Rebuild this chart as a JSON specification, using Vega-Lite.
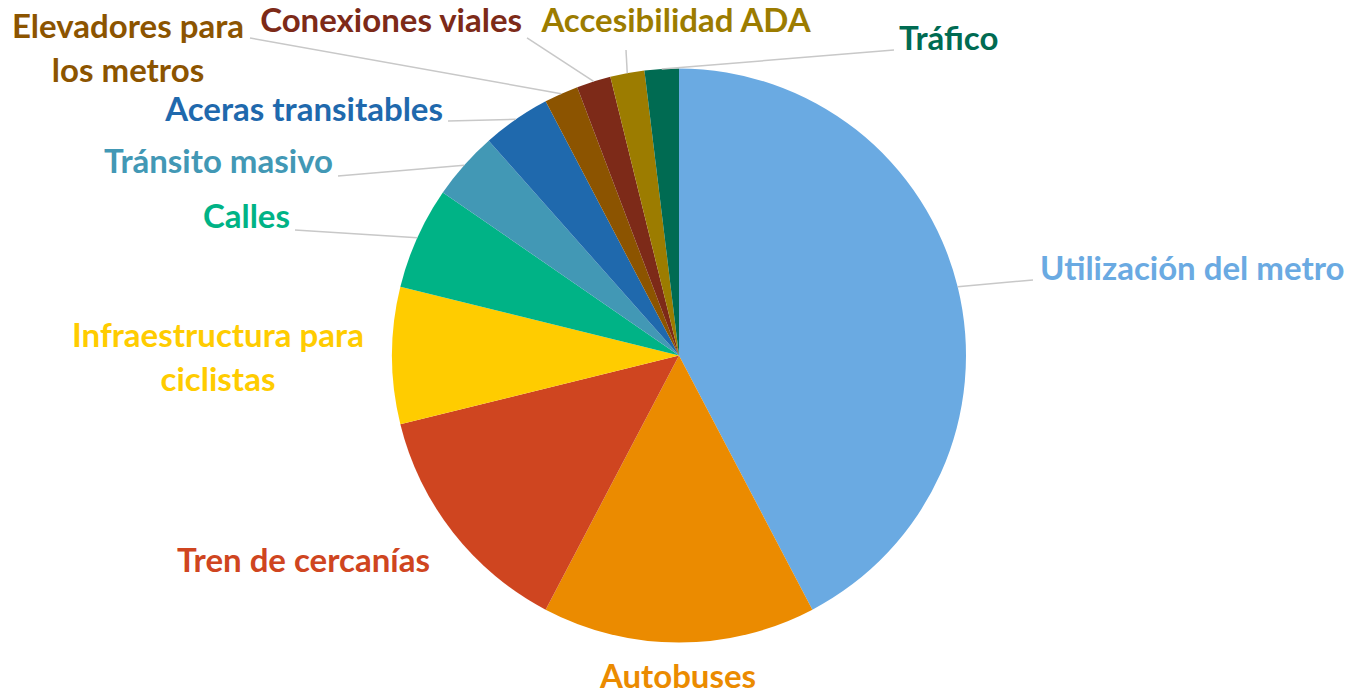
{
  "$schema": "https://vega.github.io/schema/vega-lite/v6.json",
  "width": 1338,
  "height": 683,
  "autosize": {"type": "none"},
  "padding": {"left": 10, "top": 14, "right": 0, "bottom": 0},
  "background": "white",
  "config": {"view": {"stroke": null}},
  "data": {
    "values": [
      {"categoria": "Utilización del metro", "valor": 22, "orden": 1},
      {"categoria": "Autobuses", "valor": 8, "orden": 2},
      {"categoria": "Tren de cercanías", "valor": 7, "orden": 3},
      {"categoria": "Infraestructura para ciclistas", "valor": 4, "orden": 4},
      {"categoria": "Calles", "valor": 3, "orden": 5},
      {"categoria": "Tránsito masivo", "valor": 2, "orden": 6},
      {"categoria": "Aceras transitables", "valor": 2, "orden": 7},
      {"categoria": "Elevadores para los metros", "valor": 1, "orden": 8},
      {"categoria": "Conexiones viales", "valor": 1, "orden": 9},
      {"categoria": "Accesibilidad ADA", "valor": 1, "orden": 10},
      {"categoria": "Tráfico", "valor": 1, "orden": 11}
    ]
  },
  "transform": [
    {"joinaggregate": [{"op": "sum", "field": "valor", "as": "total"}]},
    {"window": [{"op": "sum", "field": "valor", "as": "acum"}], "sort": [{"field": "orden"}], "frame": [null, 0]},
    {"calculate": "2*PI*(datum.acum - datum.valor/2)/datum.total", "as": "medio"},
    {"calculate": "sin(datum.medio)", "as": "ex"},
    {"calculate": "cos(datum.medio)", "as": "ey"},
    {"calculate": "{'Utilización del metro':[1.2334,0.2631,1.2578,0.2979,'left'],'Autobuses':[null,null,-0.0035,-1.1237,'center'],'Tren de cercanías':[null,null,-0.8676,-0.7195,'right'],'Infraestructura para ciclistas':[null,null,-1.6063,0.0645,'center'],'Calles':[-1.338,0.4373,-1.3554,0.4791,'right'],'Tránsito masivo':[-1.1882,0.6254,-1.2056,0.6707,'right'],'Aceras transitables':[-0.8049,0.8171,-0.8223,0.8519,'right'],'Elevadores para los metros':[-1.4948,1.1063,-1.9199,1.1411,'center'],'Conexiones viales':[-0.5296,1.1063,-0.547,1.162,'right'],'Accesibilidad ADA':[-0.1847,1.0645,-0.0105,1.162,'center'],'Tráfico':[0.7491,1.0645,0.7666,1.0993,'left']}[datum.categoria]", "as": "pos"},
    {"calculate": "datum.pos[0]", "as": "lx"},
    {"calculate": "datum.pos[1]", "as": "ly"},
    {"calculate": "datum.pos[2]", "as": "tx"},
    {"calculate": "datum.pos[3]", "as": "ty"},
    {"calculate": "datum.pos[4]", "as": "al"},
    {"calculate": "replace(datum.categoria, 'para ', 'para\\n')", "as": "etiqueta"}
  ],
  "layer": [
    {
      "mark": {"type": "arc", "outerRadius": 287},
      "encoding": {
        "theta": {"field": "valor", "type": "quantitative", "stack": true},
        "order": {"field": "orden", "type": "quantitative"},
        "color": {
          "field": "categoria",
          "type": "nominal",
          "legend": null,
          "scale": {
            "domain": ["Utilización del metro", "Autobuses", "Tren de cercanías", "Infraestructura para ciclistas", "Calles", "Tránsito masivo", "Aceras transitables", "Elevadores para los metros", "Conexiones viales", "Accesibilidad ADA", "Tráfico"],
            "range": ["#6AAAE2", "#EB8B00", "#CF4520", "#FFCC00", "#00B386", "#4298B5", "#1F69AD", "#8C5400", "#7D2A18", "#9C7C00", "#006B52"]
          }
        }
      }
    },
    {
      "transform": [{"filter": "datum.lx != null"}],
      "mark": {"type": "rule", "color": "#C8C8C8", "strokeWidth": 1.5},
      "encoding": {
        "x": {"field": "ex", "type": "quantitative", "axis": null, "scale": {"domain": [-2.331, 2.331], "nice": false, "zero": false}},
        "y": {"field": "ey", "type": "quantitative", "axis": null, "scale": {"domain": [-1.1899, 1.1899], "nice": false, "zero": false}},
        "x2": {"field": "lx"},
        "y2": {"field": "ly"}
      }
    },
    {
      "transform": [{"filter": "datum.al == 'left'"}],
      "mark": {"type": "text", "align": "left", "baseline": "middle", "font": "Lato", "fontWeight": "bold", "fontSize": 33, "lineBreak": "\n", "lineHeight": 44},
      "encoding": {
        "x": {"field": "tx", "type": "quantitative", "axis": null, "scale": {"domain": [-2.331, 2.331], "nice": false, "zero": false}},
        "y": {"field": "ty", "type": "quantitative", "axis": null, "scale": {"domain": [-1.1899, 1.1899], "nice": false, "zero": false}},
        "text": {"field": "etiqueta"},
        "color": {"field": "categoria", "type": "nominal", "legend": null}
      }
    },
    {
      "transform": [{"filter": "datum.al == 'right'"}],
      "mark": {"type": "text", "align": "right", "baseline": "middle", "font": "Lato", "fontWeight": "bold", "fontSize": 33, "lineBreak": "\n", "lineHeight": 44},
      "encoding": {
        "x": {"field": "tx", "type": "quantitative", "axis": null, "scale": {"domain": [-2.331, 2.331], "nice": false, "zero": false}},
        "y": {"field": "ty", "type": "quantitative", "axis": null, "scale": {"domain": [-1.1899, 1.1899], "nice": false, "zero": false}},
        "text": {"field": "etiqueta"},
        "color": {"field": "categoria", "type": "nominal", "legend": null}
      }
    },
    {
      "transform": [{"filter": "datum.al == 'center'"}],
      "mark": {"type": "text", "align": "center", "baseline": "middle", "font": "Lato", "fontWeight": "bold", "fontSize": 33, "lineBreak": "\n", "lineHeight": 44},
      "encoding": {
        "x": {"field": "tx", "type": "quantitative", "axis": null, "scale": {"domain": [-2.331, 2.331], "nice": false, "zero": false}},
        "y": {"field": "ty", "type": "quantitative", "axis": null, "scale": {"domain": [-1.1899, 1.1899], "nice": false, "zero": false}},
        "text": {"field": "etiqueta"},
        "color": {"field": "categoria", "type": "nominal", "legend": null}
      }
    }
  ]
}
